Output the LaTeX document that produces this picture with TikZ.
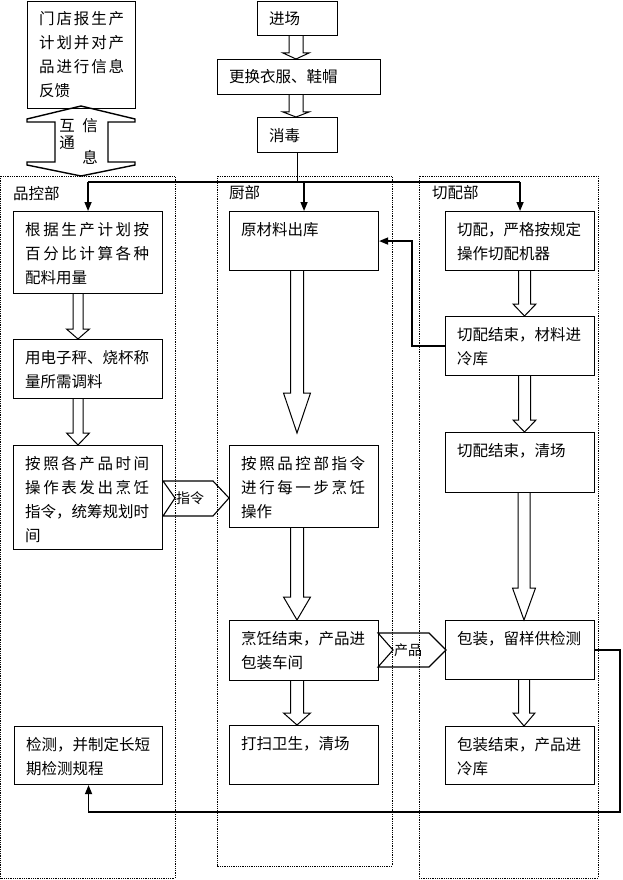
\documentclass[tikz,border=0pt]{standalone}
\usepackage{fontspec}
\setmainfont{Noto Sans CJK SC}
\usetikzlibrary{arrows.meta,calc}
\newcommand\lnx[1]{\hbox{#1}}
\newcommand\jl[2]{\hbox to #1{\jlaux#2\relax\unskip}}
\def\jlaux#1{\ifx\relax#1\else #1\hfil\expandafter\jlaux\fi}
\newcommand\lines[1]{\vtop{\baselineskip=24pt\lineskiplimit=-20pt\lineskip=0pt #1}}
\tikzset{
  box/.style={draw, line width=1.1pt, inner sep=0pt},
  txt/.style={inner sep=0pt, font=\fontsize{15.5}{24}\selectfont},
  small/.style={inner sep=0pt, font=\fontsize{14}{18}\selectfont},
  barr/.style={draw, line width=1pt, line join=miter},
  conn/.style={line width=1.4pt},
  arr/.style={conn, -{Triangle[length=9pt,width=7pt]}},
  lane/.style={densely dotted, line width=0.8pt},
  chev/.style={draw, line width=1.1pt, line join=miter},
}
% box: name, left, top, right, bottom, text lines
\newcommand\bx[6]{%
  \node[box, anchor=north west, minimum width={(#4)-(#2)}, minimum height={(#5)-(#3)}] (#1) at (#2,#3) {};
  \node[txt, anchor=base west] (#1t) at ({#2+12},{#3+24}) {\lines{#6}};}
% block arrow: from, to, cx, shaft half, head half, head length, gap
\newcommand\barrow[7]{%
  \draw[barr] (#3-#4,0 |- #1.south) -- ($(#3-#4,0 |- #2.north)+(0,-#6-#7)$)
    -- ($(#3-#5,0 |- #2.north)+(0,-#6-#7)$) -- ($(#3,0 |- #2.north)+(0,-#7)$)
    -- ($(#3+#5,0 |- #2.north)+(0,-#6-#7)$) -- ($(#3+#4,0 |- #2.north)+(0,-#6-#7)$)
    -- (#3+#4,0 |- #1.south);}
\begin{document}
\begin{tikzpicture}[x=1pt,y=-1pt]
\useasboundingbox (0,0) rectangle (623,880);
% lanes
\draw[lane] (0.6,176) rectangle (175,878);
\draw[lane] (217,176) rectangle (392,866);
\draw[lane] (419,176) rectangle (598,878);
\node[txt, anchor=west] (l1) at (13,194) {品控部};
\node[txt, anchor=west] (l2) at (229,193) {厨部};
\node[txt, anchor=west] (l3) at (432,193) {切配部};
% top boxes
\bx{md}{27}{0.7}{135}{108}{\jl{85pt}{门店报生产}\jl{85pt}{计划并对产}\jl{85pt}{品进行信息}\lnx{反馈}}
\bx{jc}{257}{0.7}{337}{35}{\lnx{进场}}
\bx{gh}{217}{59}{380}{94}{\lnx{更换衣服、鞋帽}}
\bx{xd}{257}{117}{337}{152}{\lnx{消毒}}
% double arrow
\draw[line width=1.4pt, line join=miter] (81,106) -- (135,119) -- (135,122) -- (108,122) -- (108,162)
  -- (135,162) -- (135,165) -- (81,176) -- (27,165) -- (27,162) -- (55,162) -- (55,122)
  -- (27,122) -- (27,119) -- cycle;
\node[txt] (h1) at (67,126) {互};
\node[txt] (h2) at (67,143) {通};
\node[txt] (h3) at (90,126) {信};
\node[txt] (h4) at (90,157) {息};
% left lane
\bx{gj}{13}{211}{162}{293}{\jl{124pt}{根据生产计划按}\jl{124pt}{百分比计算各种}\lnx{配料用量}}
\bx{dz}{13}{339}{162}{398}{\lnx{用电子秤、烧杯称}\lnx{量所需调料}}
\bx{az}{13}{445}{162}{549}{\jl{124pt}{按照各产品时间}\jl{124pt}{操作表发出烹饪}\lnx{指令，统筹规划时}\lnx{间}}
\bx{jcx}{14}{726}{162}{784}{\lnx{检测，并制定长短}\lnx{期检测规程}}
% kitchen lane
\bx{ycl}{229}{211}{378}{270}{\lnx{原材料出库}}
\bx{apk}{229}{445}{378}{527}{\jl{124pt}{按照品控部指令}\jl{124pt}{进行每一步烹饪}\lnx{操作}}
\bx{prj}{229}{620}{378}{680}{\lnx{烹饪结束，产品进}\lnx{包装车间}}
\bx{ds}{229}{725}{378}{784}{\lnx{打扫卫生，清场}}
% cutting lane
\bx{qp}{445}{211}{594}{270}{\lnx{切配，严格按规定}\lnx{操作切配机器}}
\bx{qj}{445}{316}{594}{375}{\lnx{切配结束，材料进}\lnx{冷库}}
\bx{qc}{445}{432}{594}{492}{\lnx{切配结束，清场}}
\bx{bz}{445}{620}{594}{679}{\lnx{包装，留样供检测}}
\bx{bj}{445}{726}{594}{784}{\lnx{包装结束，产品进}\lnx{冷库}}
% block arrows
\barrow{jc}{gh}{296}{7}{13}{6}{0}
\barrow{gh}{xd}{296}{7}{13}{5}{0}
\barrow{gj}{dz}{78}{5}{11.5}{10}{0}
\barrow{dz}{az}{78}{5}{11.5}{12}{0}
\barrow{ycl}{apk}{297}{6.5}{13.5}{40}{12}
\barrow{apk}{prj}{297}{6.5}{13.5}{23}{0}
\barrow{prj}{ds}{297}{6.5}{13.5}{12}{0}
\barrow{qp}{qj}{524.5}{6}{11.5}{12}{0}
\barrow{qj}{qc}{524.5}{6}{11.5}{12}{0}
\barrow{qc}{bz}{524}{6}{11.5}{32}{0}
\barrow{bz}{bj}{524}{5.5}{11}{13}{0}
% chevrons
\draw[chev] (163,481) -- (213,481) -- (229,498) -- (213,516) -- (163,516) -- (175,498) -- cycle;
\node[small] (zl) at (190,498) {指令};
\draw[chev] (378,633) -- (429,633) -- (446,650) -- (429,667) -- (378,667) -- (393,650) -- cycle;
\node[small] (cp) at (408,650) {产品};
% connectors
\coordinate (jn) at (297,182);
\draw[conn] (xd.south) -- (xd.south |- jn);
\draw[conn] (gj.north |- jn) -- (qp.north |- jn);
\draw[arr] (gj.north |- jn) -- (gj.north);
\draw[arr] (ycl.north |- jn) -- (ycl.north);
\draw[arr] (qp.north |- jn) -- (qp.north);
\coordinate (fb) at (412,0);
\draw[arr] (qj.west) -- (fb |- qj.west) -- (fb |- ycl.east) -- (ycl.east);
\coordinate (bt) at (620,812);
\draw[arr] (bz.east) -- (bt |- bz.east) -- (bt) -- (bt -| jcx.south) -- (jcx.south);
\end{tikzpicture}
\end{document}
